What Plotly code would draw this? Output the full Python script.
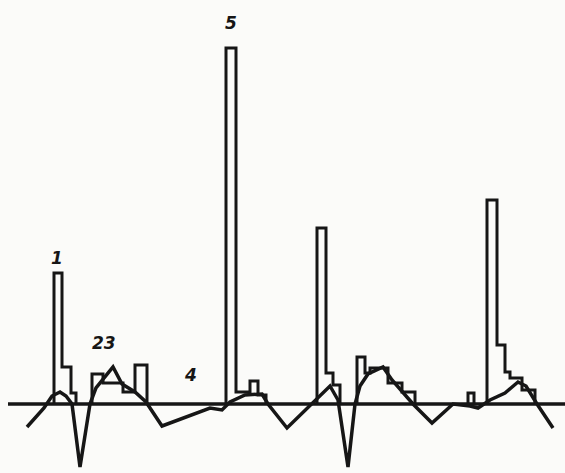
import plotly.graph_objects as go

# ---- data (time units along the trace, amplitude above the baseline) ----
wave_t = [27, 44, 52, 60, 66, 72, 80, 90, 96, 113, 122, 135, 146, 162, 210, 222, 230,
          245, 262, 268, 287, 312, 330, 338, 348, 355, 360, 368, 383, 392, 402, 413,
          432, 453, 470, 478, 490, 505, 518, 526, 537, 553]
wave_v = [-23, -4, 8, 12, 8, 0, -63, 0, 16, 37, 20, 12, 2, -22, -4, -6, 2,
          9, 10, 0, -24, 0, 18, 4, -63, 0, 18, 30, 37, 24, 12, 0,
          -19, 0, -2, -4, 4, 11, 22, 18, 0, -24]

# histogram groups: left edge, bin right edges, bin heights
g1_left, g1_edges, g1_heights = 54, [62, 71, 76], [131, 37, 11]
g2_left, g2_edges, g2_heights = 92, [103, 123, 135, 147], [30, 21, 12, 39]
g3_left, g3_edges, g3_heights = 226, [236, 250, 258, 266], [356, 12, 23, 9]
g4_left, g4_edges, g4_heights = 317, [326, 333, 340], [176, 31, 19]
g5_left, g5_edges, g5_heights = 357, [365, 370, 388, 402, 415], [47, 31, 36, 21, 12]
g6_left, g6_edges, g6_heights = 468, [474], [11]
g7_left, g7_edges, g7_heights = 487, [497, 505, 510, 522, 535], [204, 59, 32, 26, 14]

baseline_t = [8, 565]

labels = ["1", "23", "4", "5"]
label_t = [57, 104, 190, 231]
label_v = [146, 61, 29, 381]

groups = [
    (g1_left, g1_edges, g1_heights),
    (g2_left, g2_edges, g2_heights),
    (g3_left, g3_edges, g3_heights),
    (g4_left, g4_edges, g4_heights),
    (g5_left, g5_edges, g5_heights),
    (g6_left, g6_edges, g6_heights),
    (g7_left, g7_edges, g7_heights),
]

INK = "#161616"
BG = "#fbfbf9"

fig = go.Figure()

# baseline
fig.add_trace(go.Scatter(x=baseline_t, y=[0, 0], mode="lines",
                         line=dict(color=INK, width=3.5), hoverinfo="skip"))

# histogram outlines
for left, edges, heights in groups:
    xs = [left, left] + edges
    ys = [0] + heights + [0]
    fig.add_trace(go.Scatter(x=xs, y=ys, mode="lines", line_shape="hv",
                             line=dict(color=INK, width=3), hoverinfo="skip"))

# waveform
fig.add_trace(go.Scatter(x=wave_t, y=wave_v, mode="lines",
                         line=dict(color=INK, width=3.5), hoverinfo="skip"))

for txt, t, v in zip(labels, label_t, label_v):
    fig.add_annotation(x=t, y=v, text=txt, showarrow=False,
                       font=dict(family="DejaVu Sans", size=17, color=INK,
                                 style="italic", weight="bold"))

fig.update_layout(
    width=565, height=473,
    margin=dict(l=0, r=0, t=0, b=0),
    paper_bgcolor=BG, plot_bgcolor=BG,
    showlegend=False,
    xaxis=dict(range=[0, 565], visible=False, fixedrange=True),
    yaxis=dict(range=[-69, 404], visible=False, fixedrange=True),
)

fig.write_html(
    "out.html",
    config={"displayModeBar": False},
    post_script="document.body.style.margin='0px';document.body.style.overflow='hidden';"
                "document.body.style.background='%s';" % BG,
)
